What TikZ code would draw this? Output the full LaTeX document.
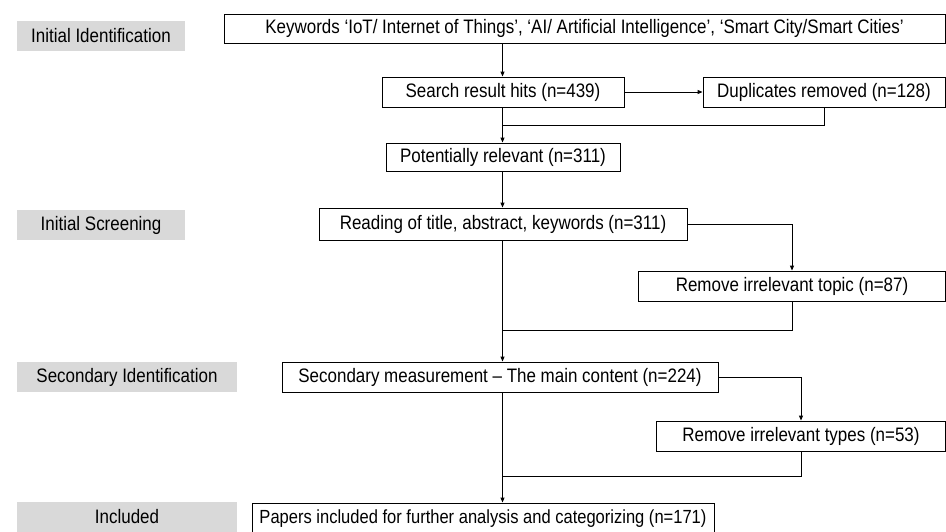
\documentclass[tikz,border=0pt]{standalone}
\usepackage{fontspec}
\setmainfont{Liberation Sans}[FakeStretch=0.87]
\usetikzlibrary{arrows.meta}
\definecolor{labgray}{HTML}{D9D9D9}
\begin{document}
\begin{tikzpicture}[x=1pt,y=-1pt,
  box/.style={draw, line width=0.9pt, fill=white, inner sep=0pt, font=\fontsize{19.5}{22}\selectfont},
  lab/.style={fill=labgray, inner sep=0pt, font=\fontsize{19.5}{22}\selectfont},
  conn/.style={line width=0.9pt},
  arr/.style={conn, -{Triangle[length=5pt,width=4pt]}}]
\useasboundingbox (0,0) rectangle (946,531);
% stage labels
\node[lab, minimum width=168, minimum height=30] (l1) at (101,36) {Initial Identification};
\node[lab, minimum width=168, minimum height=30] (l2) at (101,225) {Initial Screening};
\node[lab, minimum width=220, minimum height=30] (l3) at (127,377) {Secondary Identification};
\node[lab, minimum width=220, minimum height=30] (l4) at (127,517) {Included};
% boxes
\node[box, minimum width=721, minimum height=29] (kw) at (584.5,28.5) {Keywords ‘IoT/ Internet of Things’, ‘AI/ Artificial Intelligence’, ‘Smart City/Smart Cities’};
\node[box, minimum width=242, minimum height=30] (sr) at (503,92) {Search result hits (n=439)};
\node[box, minimum width=242, minimum height=30] (dup) at (824,92) {Duplicates removed (n=128)};
\node[box, minimum width=234, minimum height=28] (pot) at (503,157) {Potentially relevant (n=311)};
\node[box, minimum width=368, minimum height=32] (rd) at (503,224) {Reading of title, abstract, keywords (n=311)};
\node[box, minimum width=307, minimum height=30] (rt) at (792,286) {Remove irrelevant topic (n=87)};
\node[box, minimum width=436, minimum height=30] (sec) at (500,377) {Secondary measurement -- The main content (n=224)};
\node[box, minimum width=289, minimum height=30] (rty) at (801,436) {Remove irrelevant types (n=53)};
\node[box, minimum width=462, minimum height=32] (pap) at (483,519) {\fontsize{19}{22}\selectfont Papers included for further analysis and categorizing (n=171)};
% connectors
\coordinate (m1) at (502.5,125);
\coordinate (m2) at (502.5,330);
\coordinate (m3) at (502.5,476);
\draw[arr] (kw.south -| m1) -- (sr.north -| m1);
\draw[arr] (sr.east) -- (dup.west);
\draw[arr] (sr.south -| m1) -- (pot.north -| m1);
\draw[conn] (dup.south) |- (m1);
\draw[arr] (pot.south -| m1) -- (rd.north -| m1);
\draw[arr] (rd.east) -| (rt.north);
\draw[conn] (rt.south) |- (m2);
\draw[arr] (rd.south -| m1) -- (sec.north -| m1);
\draw[arr] (sec.east) -| (rty.north);
\draw[conn] (rty.south) |- (m3);
\draw[arr] (sec.south -| m1) -- (pap.north -| m1);
\end{tikzpicture}
\end{document}
